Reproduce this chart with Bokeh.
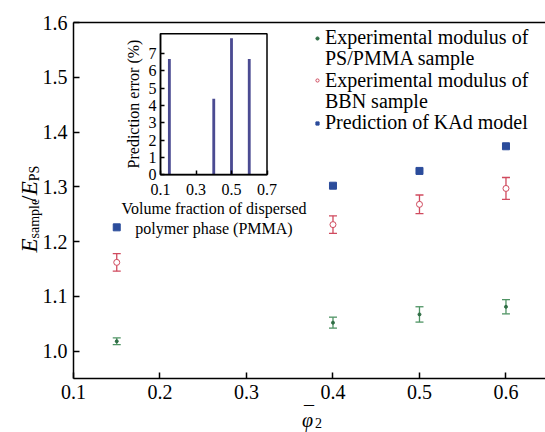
import math
from bokeh.plotting import figure
from bokeh.models import (Range1d, LinearAxis, FixedTicker, Whisker, TeeHead,
                          ColumnDataSource, Legend, LegendItem)
from bokeh.core.properties import value
from bokeh.embed import file_html
from bokeh.resources import INLINE

# ---------------- data ----------------
phi = [0.15, 0.4, 0.5, 0.6]
ps_pmma = [1.018, 1.052, 1.067, 1.081]
ps_pmma_err = [0.006, 0.010, 0.014, 0.013]
bbn = [1.162, 1.231, 1.268, 1.297]
bbn_err = [0.016, 0.016, 0.017, 0.020]
kad = [1.226, 1.302, 1.329, 1.374]

inset_phi = [0.15, 0.4, 0.5, 0.6]
pred_error = [6.7, 4.4, 7.9, 6.7]

x_ticks = [0.1, 0.2, 0.3, 0.4, 0.5, 0.6]
x_tick_labels = ["0.1", "0.2", "0.3", "0.4", "0.5", "0.6"]
y_ticks = [1.0, 1.1, 1.2, 1.3, 1.4, 1.5, 1.6]
y_tick_labels = ["1.0", "1.1", "1.2", "1.3", "1.4", "1.5", "1.6"]
inset_x_ticks = [0.1, 0.3, 0.5, 0.7]
inset_x_labels = ["0.1", "0.3", "0.5", "0.7"]
inset_y_ticks = [0, 1, 2, 3, 4, 5, 6, 7]

SERIF = "Liberation Serif"
GREEN = "#4f9464"
RED = "#d04a5e"
BLUE = "#2b4c9b"
BAR = "#4b4b92"

# ---------------- layout (page pixels) ----------------
W, H = 545, 432
OX, OY = 0, 0
AX_L, AX_R, AX_T, AX_B = 73.0, 545.0, 22.0, 378.0   # main axes box
XA0, XA1 = 0.1, 0.6457
YA0, YA1 = 0.95, 1.6
PXU = (AX_R - AX_L) / (XA1 - XA0)
PYU = (AX_B - AX_T) / (YA1 - YA0)
XS = XA0 - (AX_L - OX) / PXU
XE = XA1 + (OX + W - AX_R) / PXU
YS = YA0 - (OY + H - AX_B) / PYU
YE = YA1 + (AX_T - OY) / PYU

def dx(px):
    return XS + (px - OX) / PXU

def dy(py):
    return YE - (py - OY) / PYU

p = figure(frame_width=W, frame_height=H, x_range=Range1d(XS, XE),
           y_range=Range1d(YS, YE), output_backend="svg", toolbar_location=None,
           min_border=0, x_axis_location=None, y_axis_location=None)
p.outline_line_color = None
p.grid.visible = False

# inset box (page pixels) and its ranges
IL, IR, IT, IB = 160.0, 266.5, 33.3, 174.3
IX0, IX1 = 0.1, 0.7
IY0, IY1 = 0.0, 8.15
isx = (IR - IL) / (IX1 - IX0)
isy = (IB - IT) / (IY1 - IY0)
p.extra_x_ranges = {"ix": Range1d(IX0 - (IL - OX) / isx, IX1 + (OX + W - IR) / isx)}
p.extra_y_ranges = {"iy": Range1d(IY0 - (OY + H - IB) / isy, IY1 + (IT - OY) / isy)}

def style_axis(ax, size):
    ax.axis_line_width = 1.5
    ax.axis_line_color = "black"
    ax.major_tick_line_color = "black"
    ax.major_tick_line_width = 1.5
    ax.minor_tick_line_color = None
    ax.major_label_text_font = SERIF
    ax.major_label_text_font_size = size
    ax.major_label_text_color = "black"
    ax.axis_label_text_font = SERIF
    ax.axis_label_text_font_style = "normal"
    ax.axis_label_text_color = "black"

xa = LinearAxis(fixed_location=YA0, bounds=(XA0, XE),
                ticker=FixedTicker(ticks=x_ticks))
style_axis(xa, "20px")
xa.major_label_overrides = dict(zip(x_ticks, x_tick_labels))
xa.major_tick_in = 6
xa.major_tick_out = 0
xa.major_label_standoff = 6
p.add_layout(xa, "below")

ya = LinearAxis(fixed_location=XA0, bounds=(YA0, YA1),
                ticker=FixedTicker(ticks=y_ticks))
style_axis(ya, "20px")
ya.major_label_overrides = dict(zip(y_ticks, y_tick_labels))
ya.major_tick_in = 6
ya.major_tick_out = 0
ya.major_label_standoff = 6
p.add_layout(ya, "left")

ta = LinearAxis(fixed_location=YA1, bounds=(XA0, XE), ticker=FixedTicker(ticks=[]),
                major_label_text_font_size="0px", major_tick_in=0, major_tick_out=0,
                minor_tick_line_color=None, axis_line_width=1.5)
p.add_layout(ta, "above")

# ---------------- main series ----------------
src_g = ColumnDataSource(dict(x=phi, y=ps_pmma,
                              lo=[v - e for v, e in zip(ps_pmma, ps_pmma_err)],
                              hi=[v + e for v, e in zip(ps_pmma, ps_pmma_err)]))
src_r = ColumnDataSource(dict(x=phi, y=bbn,
                              lo=[v - e for v, e in zip(bbn, bbn_err)],
                              hi=[v + e for v, e in zip(bbn, bbn_err)]))
src_b = ColumnDataSource(dict(x=phi, y=kad))

for src, col in ((src_g, GREEN), (src_r, RED)):
    w = Whisker(source=src, base="x", lower="lo", upper="hi",
                line_color=col, line_width=1.3,
                lower_head=TeeHead(size=8, line_color=col, line_width=1.3),
                upper_head=TeeHead(size=8, line_color=col, line_width=1.3))
    p.add_layout(w)

rg = p.scatter("x", "y", source=src_g, marker="circle", size=3,
               fill_color="#2f6e45", line_color="#2f6e45")
rr = p.scatter("x", "y", source=src_r, marker="circle", size=6,
               fill_color="white", line_color=RED, line_width=1)
rb = p.scatter("x", "y", source=src_b, marker="square", size=7,
               fill_color=BLUE, line_color=BLUE)
# transparent glyph used for the continuation lines of the legend
blank = p.scatter(x=[], y=[], marker="square", size=1, alpha=0)

# one legend line per Legend so that the line pitch matches the reference
legend_lines = [("Experimental modulus of", rg),
                ("PS/PMMA sample", blank),
                ("Experimental modulus of", rr),
                ("BBN sample", blank),
                ("Prediction of KAd model", rb)]
LEG_X = 313          # px from canvas left
LEG_TOP_CENTER = 38.5
LEG_PITCH = 21.2
LEG_HALF = 10.7
for i, (lab, rend) in enumerate(legend_lines):
    c = LEG_TOP_CENTER + i * LEG_PITCH
    lg = Legend(items=[LegendItem(label=lab, renderers=[rend])],
                location=(LEG_X, H - c - LEG_HALF))
    lg.label_text_font = SERIF
    lg.label_text_font_size = "20px"
    lg.label_text_color = "black"
    lg.glyph_width = 8
    lg.glyph_height = 14
    lg.label_standoff = 4
    lg.padding = 0
    lg.margin = 0
    lg.border_line_color = None
    lg.background_fill_alpha = 0
    p.add_layout(lg)

# ---------------- inset ----------------
p.quad(left=[IX0], right=[IX1], bottom=[IY0], top=[IY1], fill_color="white",
       line_color="black", line_width=1.5, x_range_name="ix", y_range_name="iy")
p.vbar(x=inset_phi, top=pred_error, bottom=0, width=0.016, fill_color=BAR,
       line_color=None, x_range_name="ix", y_range_name="iy")

ixa = LinearAxis(x_range_name="ix", y_range_name="iy", fixed_location=IY0,
                 bounds=(IX0, IX1), ticker=FixedTicker(ticks=inset_x_ticks),
                 axis_label="Volume fraction of dispersed\npolymer phase (PMMA)")
style_axis(ixa, "16px")
ixa.major_label_overrides = dict(zip(inset_x_ticks, inset_x_labels))
ixa.major_tick_in = 4
ixa.major_tick_out = 0
ixa.major_label_standoff = 9
ixa.axis_label_text_font_size = "16px"
ixa.axis_label_standoff = 2
p.add_layout(ixa, "below")

iya = LinearAxis(x_range_name="ix", y_range_name="iy", fixed_location=IX0,
                 bounds=(IY0, IY1), ticker=FixedTicker(ticks=inset_y_ticks),
                 axis_label="Prediction error (%)")
style_axis(iya, "16px")
iya.major_tick_in = 4
iya.major_tick_out = 0
iya.major_label_standoff = 4
iya.axis_label_text_font_size = "16px"
iya.axis_label_standoff = 4
p.add_layout(iya, "left")

# ---------------- y-axis title: E_sample / E_PS (rotated) ----------------
ylab_base = 29.0     # page x of baseline
ylab_start = 252.0   # page y where text starts (bottom)
pieces = [("E", "23px", "italic", 0.0, 14.0),
          ("sample", "14px", "normal", 4.5, 36.5),
          ("/", "23px", "normal", 0.0, 6.8),
          ("E", "23px", "italic", 0.0, 14.0),
          ("PS", "14px", "normal", 4.5, 15.5)]
pos = ylab_start
for txt, fs, style, shift, wpx in pieces:
    p.text(x=[dx(ylab_base + shift)], y=[dy(pos)], text=[txt], angle=math.pi / 2,
           text_font=value(SERIF), text_font_size=value(fs),
           text_font_style=style, text_align="left",
           text_baseline="alphabetic", text_color="black")
    pos -= wpx

# ---------------- x-axis title: phi-bar subscript 2 ----------------
p.text(x=[dx(307.0)], y=[dy(419.5)], text=["\u03c6"], text_font=value(SERIF),
       text_font_size=value("20px"), text_font_style="italic", text_align="center",
       text_baseline="alphabetic", text_color="black")
p.text(x=[dx(308.5)], y=[dy(413.0)], text=["\u00af"], text_font=value(SERIF),
       text_font_size=value("20px"), text_align="center",
       text_baseline="alphabetic", text_color="black")
p.text(x=[dx(318.0)], y=[dy(422.5)], text=["2"], text_font=value(SERIF),
       text_font_size=value("14px"), text_align="center",
       text_baseline="alphabetic", text_color="black")

open("out.html", "w").write(file_html(p, INLINE))
